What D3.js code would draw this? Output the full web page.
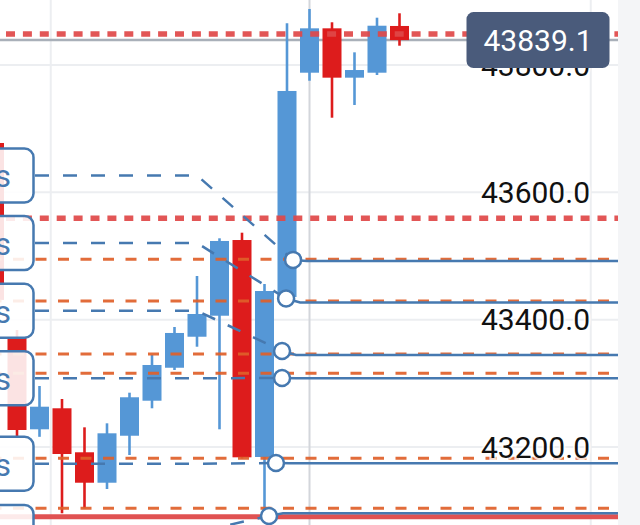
<!DOCTYPE html>
<html><head><meta charset="utf-8">
<script src="https://cdn.jsdelivr.net/npm/d3@7/dist/d3.min.js"></script>
<style>html,body{margin:0;padding:0;background:#fff;overflow:hidden}svg{display:block;font-family:Roboto,"Noto Sans",sans-serif}</style>
</head><body><svg id="c" width="640" height="525"></svg>
<script>
// ---- data ----
const opens  = [43677.5,43372.8,43227.8,43260.8,43191.7,43143.9,43217.7,43272.7,43324.5,43373.2,43406.2,43525.1,43184.3,43435.6,43787.9,43857.6,43780.1,43787.9,43861.3];
const highs  = [43682.0,43383.8,43295.8,43275.4,43230.9,43237.2,43285.3,43344.5,43388.5,43468.6,43527.8,43536.6,43456.0,43865.5,43888.0,43867.1,43819.9,43874.3,43881.2];
const lows   = [43423.0,43215.7,43216.0,43095.9,43103.7,43134.0,43187.4,43260.8,43320.9,43357.5,43227.8,43181.9,43093.2,43430.9,43775.3,43717.2,43737.2,43784.3,43830.3];
const closes = [43431.0,43226.7,43263.3,43189.0,43143.9,43221.5,43278.1,43328.8,43379.1,43408.9,43523.6,43183.8,43445.0,43759.2,43857.6,43780.1,43792.1,43861.7,43839.1];
const lastPrice = 43839.1;
const priceTicks = [43200, 43400, 43600, 43800];
const timeGridBars = [2.5, 14, 26.5];
const redDottedLevels = [43848.7, 43559.2];
const orangeDashedLevels = [43494.8, 43429.3, 43346.1, 43315.8, 43182.2, 43103.7];
const blueLevels   = [43492.3, 43427.0, 43344.5, 43307.9, 43174.4, 43095.9];
const anchorPrices = [43493.9, 43433.3, 43350.8, 43308.4, 43174.8, 43091.6];
const anchorBars   = [13.27, 12.96, 12.78, 12.78, 12.51, 12.2];
const labelPrices  = [43626.6, 43520.4, 43414.1, 43307.9, 43173.8, 43066.5];
const labelTexts   = ["s","s","s","s","s","s"];
const redSolidLevel = 43090.5;

// ---- scales ----
const W = 640, H = 525, plotR = 618;
const x = d3.scaleLinear().domain([0, 18]).range([-5.5, 399.5]);
const y = d3.scaleLinear().domain([43200, 43800]).range([447, 65]);
const svg = d3.select("#c");
const blue = "#5597d6", red = "#dd1c1c", lineBlue = "#4679b0";

svg.append("rect").attr("x",0).attr("y",0).attr("width",W).attr("height",H).attr("fill","#fff");
svg.append("rect").attr("x",plotR).attr("y",0).attr("width",W-plotR).attr("height",H).attr("fill","#f4f5f7");

// gridlines
svg.append("g").selectAll("line").data(priceTicks).join("line")
  .attr("x1",0).attr("x2",plotR).attr("y1",d=>y(d)).attr("y2",d=>y(d))
  .attr("stroke","#eceef1").attr("stroke-width",2);
svg.append("g").selectAll("line").data(timeGridBars).join("line")
  .attr("x1",d=>x(d)).attr("x2",d=>x(d)).attr("y1",0).attr("y2",H)
  .attr("stroke",(d,i)=>i===1?"#d3d6db":"#eceef1").attr("stroke-width",2);

// last price line
svg.append("line").attr("x1",0).attr("x2",plotR).attr("y1",y(lastPrice)).attr("y2",y(lastPrice))
  .attr("stroke","#a9b0b9").attr("stroke-width",2.5);

// candles
const idx = d3.range(opens.length);
const cg = svg.append("g");
cg.selectAll("line").data(idx).join("line")
  .attr("x1",i=>x(i)).attr("x2",i=>x(i)).attr("y1",i=>y(highs[i])).attr("y2",i=>y(lows[i]))
  .attr("stroke",i=>closes[i]>=opens[i]?blue:red).attr("stroke-width",2.6);
cg.selectAll("rect").data(idx).join("rect")
  .attr("x",i=>x(i)-9.5).attr("width",19)
  .attr("y",i=>y(Math.max(opens[i],closes[i])))
  .attr("height",i=>Math.max(1.5,Math.abs(y(opens[i])-y(closes[i]))))
  .attr("fill",i=>closes[i]>=opens[i]?blue:red);

// red solid line
svg.append("line").attr("x1",0).attr("x2",plotR).attr("y1",y(redSolidLevel)).attr("y2",y(redSolidLevel))
  .attr("stroke","#e05252").attr("stroke-width",5);

// orange dashed
svg.append("g").selectAll("line").data(orangeDashedLevels).join("line")
  .attr("x1",0).attr("x2",plotR).attr("y1",d=>y(d)).attr("y2",d=>y(d))
  .attr("stroke","#e0602a").attr("stroke-width",3).attr("stroke-dasharray","11 11.5")
  .attr("stroke-dashoffset",9.5).attr("opacity",0.92);

// red dotted
svg.append("g").selectAll("line").data(redDottedLevels).join("line")
  .attr("x1",0).attr("x2",plotR).attr("y1",d=>y(d)).attr("y2",d=>y(d))
  .attr("stroke","#e04848").attr("stroke-width",5.5).attr("stroke-dasharray","9 7.9")
  .attr("stroke-dashoffset",10.9).attr("opacity",0.92);

// blue solid lines from anchors
const bendBar = 9;
svg.append("g").selectAll("path").data(idx.slice(0,6)).join("path")
  .attr("d",i=>{const cx=x(anchorBars[i]),cy=y(anchorPrices[i]),ly=y(blueLevels[i]);
    return `M${cx},${cy}L${cx+14},${ly}L${plotR},${ly}`;})
  .attr("fill","none").attr("stroke",lineBlue).attr("stroke-width",2.5);

// leader dashed lines
svg.append("g").selectAll("path").data(idx.slice(0,6)).join("path")
  .attr("d",i=>{const by=y(labelPrices[i]),cx=x(anchorBars[i]),cy=y(anchorPrices[i]);
    return `M35,${by}L${x(bendBar)},${by}L${cx},${cy}`;})
  .attr("fill","none").attr("stroke",lineBlue).attr("stroke-width",2.5)
  .attr("stroke-dasharray","14 14");

// label boxes
const lb = svg.append("g").selectAll("g").data(idx.slice(0,6)).join("g");
lb.append("rect").attr("x",-60).attr("width",93.5).attr("y",i=>y(labelPrices[i])-27).attr("height",54)
  .attr("rx",9).attr("fill","#fff").attr("fill-opacity",0.88).attr("stroke",lineBlue).attr("stroke-width",2.5);
lb.append("text").attr("x",11).attr("y",i=>y(labelPrices[i])+12).attr("text-anchor","end")
  .attr("font-size",32).attr("fill",lineBlue).text(i=>labelTexts[i]);

// anchor circles
svg.append("g").selectAll("circle").data(idx.slice(0,6)).join("circle")
  .attr("cx",i=>x(anchorBars[i])).attr("cy",i=>y(anchorPrices[i])).attr("r",8)
  .attr("fill","#fff").attr("stroke",lineBlue).attr("stroke-width",2.5);

// price axis labels
svg.append("g").selectAll("text").data(priceTicks).join("text")
  .attr("x",590).attr("y",d=>y(d)).attr("dy","0.36em").attr("text-anchor","end")
  .attr("font-size",30).attr("fill","#111")
  .attr("stroke","rgba(255,255,255,0.75)").attr("stroke-width",4).attr("paint-order","stroke")
  .text(d=>d3.format(".1f")(d));

// last price tag
const tg = svg.append("g");
tg.append("rect").attr("x",466.5).attr("y",y(lastPrice)-28).attr("width",143).attr("height",56)
  .attr("rx",7).attr("fill","#4a5b7b");
tg.append("text").attr("x",538).attr("y",y(lastPrice)).attr("dy","0.36em").attr("text-anchor","middle")
  .attr("font-size",30).attr("fill","#fff").text(d3.format(".1f")(lastPrice));
</script></body></html>
